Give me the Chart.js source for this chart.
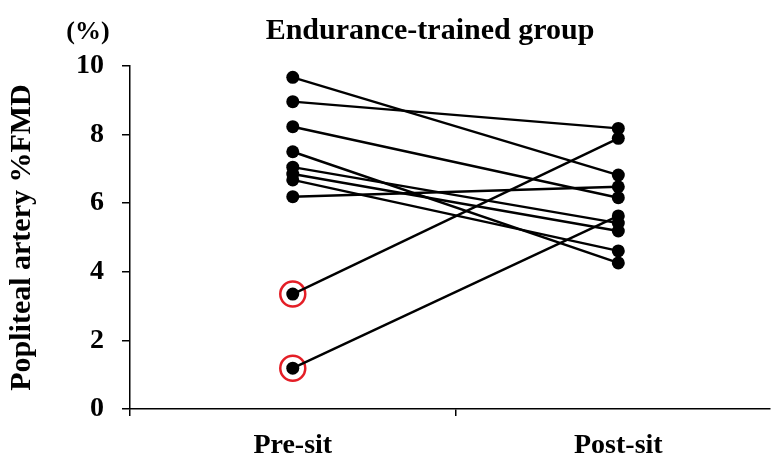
<!DOCTYPE html>
<html>
<head>
<meta charset="utf-8">
<script src="https://cdn.jsdelivr.net/npm/chart.js@4/dist/chart.umd.min.js"></script>
<style>
  html, body { margin: 0; padding: 0; background: #fff; }
  #wrap { width: 774px; height: 461px; }
</style>
</head>
<body>
<div id="wrap"><canvas id="fmdChart" width="774" height="461"></canvas></div>
<script>
// ---- data ----
const categories = ['Pre-sit', 'Post-sit'];
const preSit  = [9.67, 8.96, 8.23, 7.50, 7.05, 6.85, 6.68, 6.19, 3.35, 1.19];
const postSit = [6.82, 8.18, 6.16, 4.26, 5.42, 5.19, 4.61, 6.48, 7.89, 5.63];
const circled = [8, 9];            // subjects marked with a red ring
const yTicks = [0, 2, 4, 6, 8, 10];

const FONT = "'Liberation Serif', 'Times New Roman', serif";

// one line per subject, x = category position (1, 2)
let datasets = preSit.map((v, i) => ({
    data: [{ x: 1, y: v }, { x: 2, y: postSit[i] }],
    borderColor: '#000',
    borderWidth: 2.4,
    backgroundColor: '#000',
    pointRadius: 6.5,
    pointBorderWidth: 0,
    showLine: true
}));

datasets.push({
    data: circled.map(i => ({ x: 1, y: preSit[i] })),
    showLine: false,
    pointRadius: 12.5,
    pointBorderWidth: 2.5,
    pointBorderColor: '#e41e26',
    pointBackgroundColor: 'rgba(0,0,0,0)'
});

// title and unit label drawn on top of the chart
const extraText = {
    id: 'extraText',
    afterDraw(chart) {
        let c = chart.ctx;
        c.save();
        c.fillStyle = '#000';
        c.textBaseline = 'alphabetic';
        c.textAlign = 'center';
        c.font = 'bold 30px ' + FONT;
        c.fillText('Endurance-trained group', 430, 39);
        c.font = 'bold 26px ' + FONT;
        c.fillText('(%)', 88, 39);
        c.restore();
    }
};

let ctx = document.getElementById('fmdChart').getContext('2d');

let fmdChart = new Chart(ctx, {
    type: 'scatter',
    data: { datasets: datasets },
    plugins: [extraText],
    options: {
        responsive: false,
        animation: false,
        layout: { autoPadding: false, padding: { top: 66, right: 4, bottom: 0, left: 0 } },
        plugins: {
            legend: { display: false },
            tooltip: { enabled: false }
        },
        scales: {
            x: {
                type: 'linear',
                min: 0.5,
                max: 2.466,
                afterBuildTicks: (scale) => {
                    scale.ticks = [0.5, 1, 1.5, 2].map(v => ({ value: v }));
                },
                afterFit: (scale) => { scale.height = 52; },
                border: { display: true, color: '#000', width: 1.5 },
                grid: {
                    drawOnChartArea: false,
                    drawTicks: true,
                    tickLength: 7,
                    lineWidth: 1.5,
                    tickColor: (c) => (c.tick && (c.tick.value === 0.5 || c.tick.value === 1.5)) ? '#000' : 'rgba(0,0,0,0)'
                },
                ticks: {
                    autoSkip: false,
                    maxRotation: 0,
                    padding: 13,
                    color: '#000',
                    font: { family: FONT, size: 28, weight: 'bold' },
                    callback: (v) => (v === 1 || v === 2) ? categories[v - 1] : ''
                }
            },
            y: {
                min: 0,
                max: 10,
                afterBuildTicks: (scale) => {
                    scale.ticks = yTicks.map(v => ({ value: v }));
                },
                afterFit: (scale) => { scale.width = 130; },
                border: { display: true, color: '#000', width: 1.5 },
                grid: {
                    drawOnChartArea: false,
                    drawTicks: true,
                    tickLength: 8,
                    lineWidth: 1.5,
                    color: '#000'
                },
                ticks: {
                    padding: 18,
                    color: '#000',
                    font: { family: FONT, size: 28, weight: 'bold' }
                },
                title: {
                    display: true,
                    text: 'Popliteal artery %FMD',
                    color: '#000',
                    padding: { top: 4, bottom: 0 },
                    font: { family: FONT, size: 30, weight: 'bold' }
                }
            }
        }
    }
});
</script>
</body>
</html>
